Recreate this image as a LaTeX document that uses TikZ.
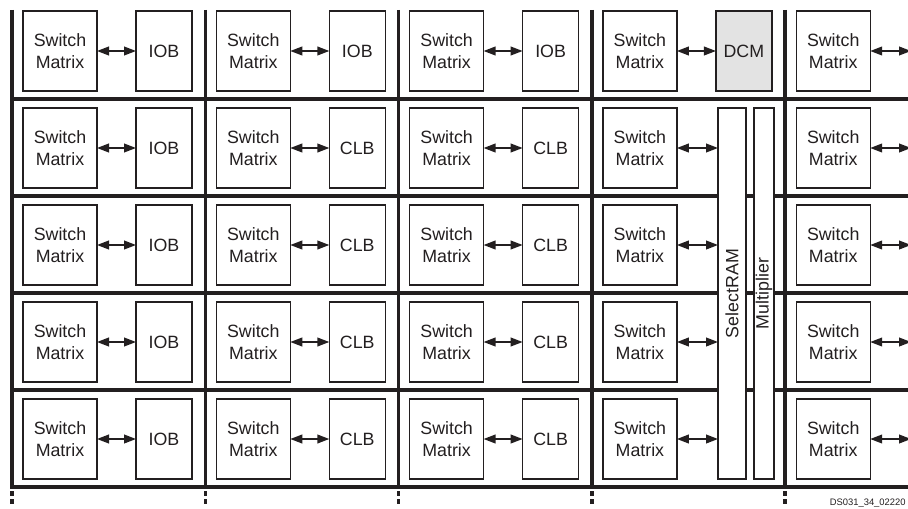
\documentclass[tikz,border=0pt]{standalone}
\usepackage{fontspec}
\setmainfont{Liberation Sans}
\usetikzlibrary{arrows.meta}
\definecolor{ink}{RGB}{35,31,32}
\definecolor{dcmgray}{RGB}{227,227,227}
\begin{document}
\begin{tikzpicture}[x=0.5pt,y=-0.5pt,
  grid/.style={draw=ink, line width=1.75pt},
  gridend/.style={grid, dash pattern=on 2.5pt off 1.5pt},
  blk/.style={draw=ink, line width=0.7pt, fill=white, inner sep=0pt, outer sep=0pt,
    align=center, text=ink, font=\fontsize{8.9}{11}\selectfont},
  sw/.style={blk, minimum width=37pt, minimum height=40pt},
  bx/.style={blk, minimum width=28pt, minimum height=40pt},
  link/.style={draw=ink, line width=0.75pt,
    {Triangle[length=6pt,width=4.4pt]}-{Triangle[length=6pt,width=4.4pt]}},
  tag/.style={text=ink, font=\fontsize{4.7}{5}\selectfont, inner sep=0pt, anchor=base east}]
\useasboundingbox (0,0) rectangle (908,508);
% routing grid
\foreach \r in {0,...,4}{
  \draw[grid] (12,{99+97*\r}) -- (912,{99+97*\r});
}
\foreach \c in {0,...,4}{
  \draw[grid] ({12+193.3*\c},10) -- ({12+193.3*\c},489);
  \draw[gridend] ({12+193.3*\c},491) -- ({12+193.3*\c},505);
}
% switch matrices
\foreach \r in {0,...,4}{
  \foreach \c in {0,...,4}{
    \node[sw] (sw-\r-\c) at ({12+193.3*\c+48},{51+97*\r}) {Switch\\Matrix};
  }
}
% IOB / CLB blocks
\foreach \r in {0,...,4}{
  \node[bx] (bx-\r-0) at (164,{51+97*\r}) {IOB};
}
\foreach \c in {1,2}{
  \node[bx] (bx-0-\c) at ({12+193.3*\c+152},51) {IOB};
  \foreach \r in {1,...,4}{
    \node[bx] (bx-\r-\c) at ({12+193.3*\c+152},{51+97*\r}) {CLB};
  }
}
\node[bx, fill=dcmgray] (dcm) at ({12+193.3*3+152},51) {DCM};
\node[blk, rotate=90, minimum width=185.5pt, minimum height=14pt] (sram) at (732,293.5) {SelectRAM};
\node[blk, rotate=90, minimum width=185.5pt, minimum height=10pt] (mult) at (764,293.5) {Multiplier};
% connectors
\foreach \r in {0,...,4}{
  \foreach \c in {0,1,2}{
    \draw[link] (sw-\r-\c) -- (bx-\r-\c);
  }
  \coordinate (edge-\r) at (911,{51+97*\r});
  \draw[link] (sw-\r-4.east) -- (edge-\r);
}
\draw[link] (sw-0-3) -- (dcm);
\foreach \r in {1,...,4}{
  \draw[link] (sw-\r-3.east) -- (sw-\r-3.east -| sram.north);
}
\node[tag] (code) at (906,505) {DS031\_34\_02220};
\end{tikzpicture}
\end{document}
